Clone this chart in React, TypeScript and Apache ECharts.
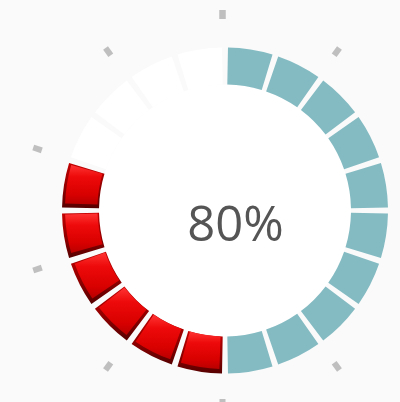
import React, { useEffect, useRef } from 'react';
import * as echarts from 'echarts';

// ---- data ----
const percentValue = 80;
// 20 equal ring segments, clockwise from 12 o'clock
const segmentKinds = [
  'done', 'done', 'done', 'done', 'done', 'done', 'done', 'done', 'done', 'done',
  'accent', 'accent', 'accent', 'accent', 'accent', 'accent',
  'empty', 'empty', 'empty', 'empty',
];
const segmentValues = [1, 1, 1, 1, 1, 1, 1, 1, 1, 1, 1, 1, 1, 1, 1, 1, 1, 1, 1, 1];

const BG = '#fafafa';
const TEAL = '#84bbc3';

const baseColor = (kind: string): any => {
  if (kind === 'done') return TEAL;
  if (kind === 'empty') return '#ffffff';
  return new echarts.graphic.LinearGradient(0, 0, 0, 1, [
    { offset: 0, color: '#c40000' },
    { offset: 0.6, color: '#8a0000' },
    { offset: 1, color: '#560000' },
  ]);
};

const faceColor = () =>
  new echarts.graphic.LinearGradient(0, 0, 0, 1, [
    { offset: 0, color: '#ff3434' },
    { offset: 0.3, color: '#ee0a0a' },
    { offset: 0.75, color: '#d80000' },
    { offset: 1, color: '#b80000' },
  ]);

export default function App() {
  const ref = useRef<HTMLDivElement>(null);
  useEffect(() => {
    if (!ref.current) return;
    const chart = echarts.init(ref.current, undefined, { renderer: 'svg' });
    const ringCenter: [number, number] = [225, 210.5];
    chart.setOption({
      animation: false,
      backgroundColor: BG,
      series: [
        {
          type: 'pie',
          center: ringCenter,
          radius: [0, 126],
          silent: true,
          z: 1,
          label: { show: false },
          labelLine: { show: false },
          data: [{ value: 1, itemStyle: { color: '#ffffff' } }],
        },
        {
          type: 'pie',
          center: ringCenter,
          radius: [126, 163],
          startAngle: 90,
          clockwise: true,
          padAngle: 2.1,
          silent: true,
          z: 2,
          label: { show: false },
          labelLine: { show: false },
          data: segmentValues.map((v, i) => ({
            value: v,
            itemStyle: { color: baseColor(segmentKinds[i]) },
          })),
        },
        {
          type: 'pie',
          center: [225, 209],
          radius: [127.5, 160],
          startAngle: 90,
          clockwise: true,
          padAngle: 4,
          silent: true,
          z: 3,
          label: { show: false },
          labelLine: { show: false },
          data: segmentValues.map((v, i) => ({
            value: v,
            itemStyle: {
              color: segmentKinds[i] === 'accent' ? faceColor() : 'rgba(0,0,0,0)',
            },
          })),
        },
        {
          type: 'gauge',
          center: [222.5, 209],
          radius: 199,
          startAngle: 90,
          endAngle: -270,
          min: 0,
          max: 100,
          splitNumber: 10,
          silent: true,
          z: 5,
          axisLine: { show: false, lineStyle: { width: 0 } },
          axisTick: { show: false },
          axisLabel: { show: false },
          pointer: { show: false },
          anchor: { show: false },
          progress: { show: false },
          title: { show: false },
          splitLine: {
            show: true,
            length: 9,
            distance: 0,
            lineStyle: { color: '#bfbfbf', width: 6, cap: 'butt' },
          },
          detail: {
            show: true,
            formatter: '{value}%',
            offsetCenter: [13, 13],
            fontSize: 49,
            fontFamily: 'Open Sans',
            fontWeight: 'normal',
            color: '#555555',
          },
          data: [{ value: percentValue }],
        },
      ],
    });
    return () => chart.dispose();
  }, []);
  return (
    <div
      ref={ref}
      style={{ position: 'fixed', left: 0, top: 0, width: 400, height: 402 }}
    />
  );
}
